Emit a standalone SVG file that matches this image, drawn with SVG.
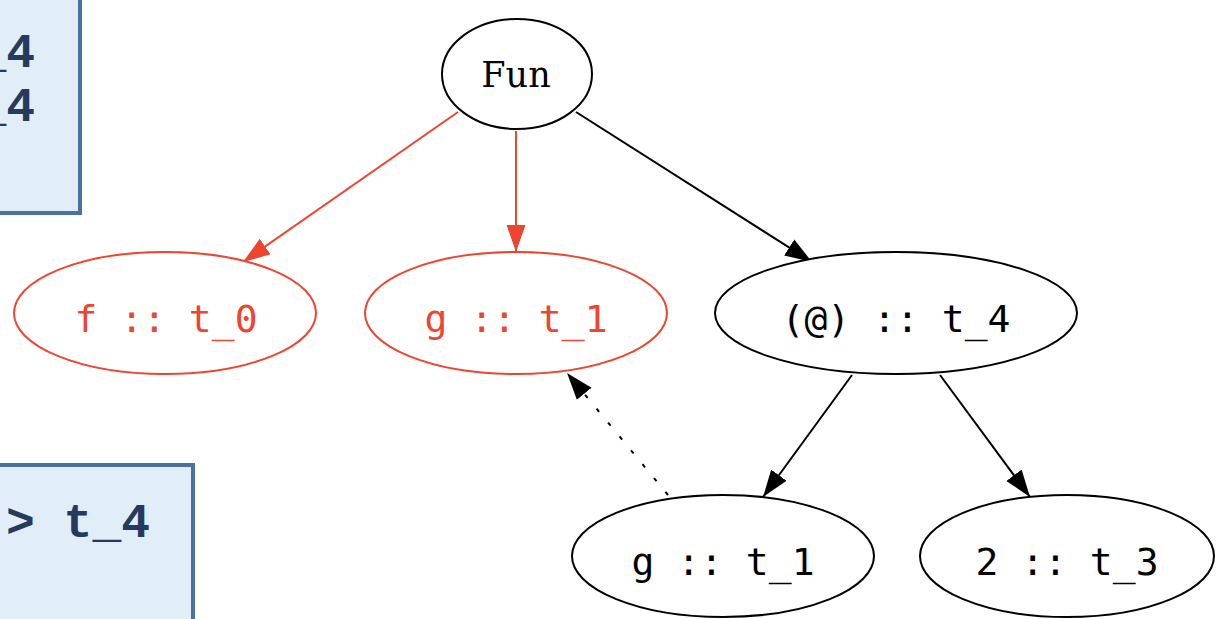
<svg xmlns="http://www.w3.org/2000/svg" width="1217" height="619" viewBox="0 0 1217 619">
<style>
.box{fill:#e1eef7;stroke:#4a72a0;stroke-width:4}
.btxt{font-family:"Liberation Mono",monospace;font-weight:bold;font-size:48px;fill:#243a5e}
.node{fill:#ffffff;stroke:#000000;stroke-width:2}
.rnode{fill:#ffffff;stroke:#ee4530;stroke-width:2}
.ntxt{font-family:"DejaVu Sans Mono",monospace;font-size:38px;text-anchor:middle;fill:#000000}
.stxt{font-family:"DejaVu Serif",serif;font-size:35px;text-anchor:middle;fill:#000000}
.rtxt{font-family:"DejaVu Sans Mono",monospace;font-size:38px;text-anchor:middle;fill:#ee4530}
.edge{fill:none;stroke:#000000;stroke-width:2}
.redge{fill:none;stroke:#ee4530;stroke-width:2}
</style>
<defs>
<marker id="ab" markerUnits="userSpaceOnUse" viewBox="0 0 28 20" markerWidth="28" markerHeight="20" refX="27" refY="10" orient="auto">
<path d="M0,0.5 L27,10 L0,19.5 z" fill="#000000"/>
</marker>
<marker id="ar" markerUnits="userSpaceOnUse" viewBox="0 0 28 20" markerWidth="28" markerHeight="20" refX="27" refY="10" orient="auto">
<path d="M0,0.5 L27,10 L0,19.5 z" fill="#ee4530"/>
</marker>
</defs>
<rect width="1217" height="619" fill="#ffffff"/>
<g id="box-top">
<rect class="box" x="-10" y="-10" width="90" height="223"/>
<text class="btxt" x="35" y="67" text-anchor="end">_4</text>
<text class="btxt" x="35" y="121" text-anchor="end">_4</text>
</g>
<g id="box-bottom">
<rect class="box" x="-10" y="465" width="203" height="170"/>
<text class="btxt" x="150" y="537" text-anchor="end">-&gt; t_4</text>
</g>
<g id="connectors">
<line class="redge" x1="458" y1="112" x2="243" y2="262" marker-end="url(#ar)"/>
<line class="redge" x1="516" y1="131" x2="516" y2="252" marker-end="url(#ar)"/>
<line class="edge" x1="576" y1="112" x2="812" y2="262" marker-end="url(#ab)"/>
<line class="edge" x1="852" y1="375" x2="763" y2="497" marker-end="url(#ab)"/>
<line class="edge" x1="940" y1="375" x2="1030" y2="497" marker-end="url(#ab)"/>
<line class="edge" x1="668" y1="495" x2="567" y2="373" stroke-dasharray="4,14" marker-end="url(#ab)"/>
</g>
<g id="n-fun">
<ellipse class="node" cx="517" cy="74" rx="75" ry="55"/>
<text class="stxt" x="516" y="87">Fun</text>
</g>
<g id="n-f">
<ellipse class="rnode" cx="165" cy="313" rx="151" ry="61"/>
<text class="rtxt" x="166" y="332">f :: t_0</text>
</g>
<g id="n-g">
<ellipse class="rnode" cx="516" cy="313" rx="151" ry="61"/>
<text class="rtxt" x="516" y="332">g :: t_1</text>
</g>
<g id="n-app">
<ellipse class="node" cx="896" cy="313" rx="181" ry="61"/>
<text class="ntxt" x="896" y="332">(@) :: t_4</text>
</g>
<g id="n-g2">
<ellipse class="node" cx="723" cy="556" rx="151" ry="61"/>
<text class="ntxt" x="723" y="575">g :: t_1</text>
</g>
<g id="n-2">
<ellipse class="node" cx="1067" cy="556" rx="147" ry="61"/>
<text class="ntxt" x="1067" y="575">2 :: t_3</text>
</g>
</svg>
